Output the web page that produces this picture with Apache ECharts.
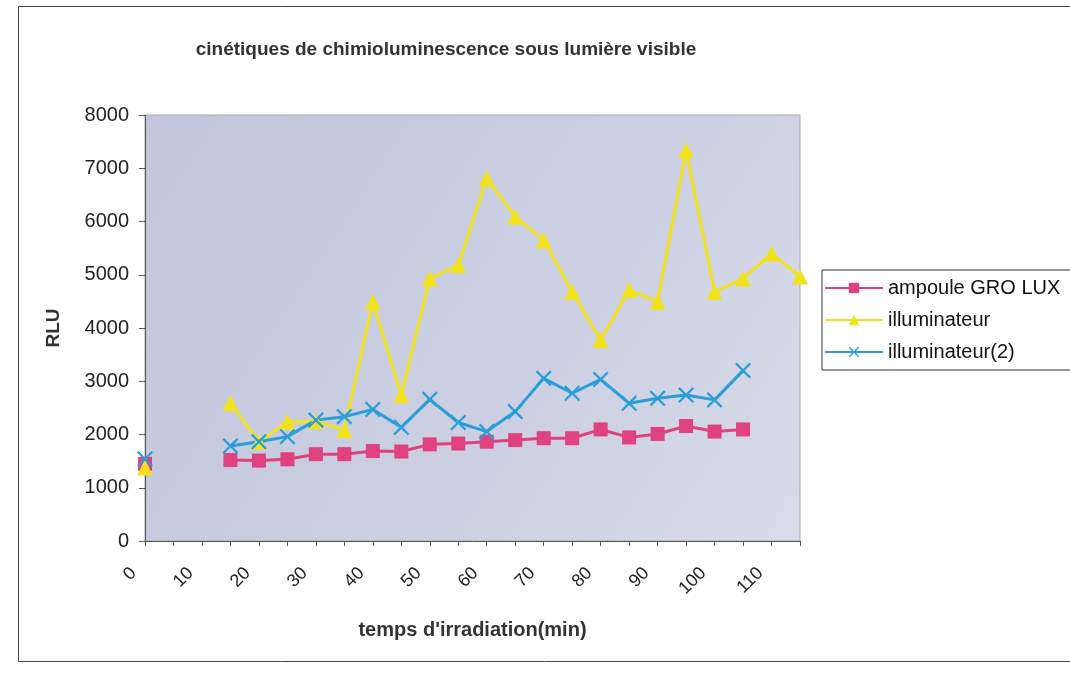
<!DOCTYPE html>
<html>
<head>
<meta charset="utf-8">
<script src="https://cdn.jsdelivr.net/npm/echarts@6/dist/echarts.min.js"></script>
<style>
  html, body { margin: 0; padding: 0; background: #fff; }
  #main { width: 1070px; height: 676px; }
</style>
</head>
<body>
<div id="main"></div>
<script>
/*#############  données  ###############*/
var categories = ["0", "5", "10", "15", "20", "25", "30", "35", "40", "45", "50", "55",
  "60", "65", "70", "75", "80", "85", "90", "95", "100", "105", "110", "115"]; //temps (min)
var ampoule = [1450, "-", "-", 1520, 1510, 1535, 1630, 1630, 1690, 1680, 1815, 1830,
  1865, 1895, 1930, 1930, 2095, 1945, 2010, 2160, 2055, 2095, "-", "-"]; //ampoule GRO LUX
var illuminateur = [1380, "-", "-", 2590, 1865, 2240, 2250, 2085, 4495, 2740, 4930, 5180,
  6810, 6090, 5650, 4680, 3775, 4715, 4495, 7340, 4680, 4930, 5400, 4965]; //illuminateur
var illuminateur2 = [1540, "-", "-", 1785, 1865, 1960, 2270, 2335, 2470, 2135, 2660, 2225,
  2055, 2430, 3055, 2775, 3035, 2585, 2680, 2740, 2650, 3200, "-", "-"]; //illuminateur(2)

var font = "Liberation Sans, Arial, sans-serif";
var crossPath = "path://M0,1L1,0L5,4L9,0L10,1L6,5L10,9L9,10L5,6L1,10L0,9L4,5Z";

var myChart = echarts.init(document.getElementById("main"));
var option = {
  backgroundColor: "#fff",
  textStyle: { fontFamily: font },
  animation: false,
  title: {
    text: "cinétiques de chimioluminescence sous lumière visible",
    left: 441,
    top: 35,
    textAlign: "center",
    textStyle: { fontSize: 19, fontWeight: "bold", color: "#333", fontFamily: font }
  },
  graphic: [
    {
      type: "rect",
      shape: { x: 18.5, y: 6.5, width: 1060, height: 655 },
      style: { fill: "none", stroke: "#444", lineWidth: 1 },
      silent: true
    }
  ],
  legend: {
    orient: "vertical",
    left: 822,
    top: 270,
    padding: [8, 40, 8, 2],
    itemWidth: 58,
    itemHeight: 13,
    itemGap: 12,
    borderColor: "#333",
    borderWidth: 1,
    textStyle: { fontSize: 20, color: "#111", fontFamily: font },
    data: ["ampoule GRO LUX", "illuminateur", "illuminateur(2)"]
  },
  grid: {
    left: 145,
    right: 270,
    top: 115,
    bottom: 135,
    show: true,
    borderWidth: 1,
    borderColor: "#aaa5bd",
    backgroundColor: new echarts.graphic.LinearGradient(0, 0, 1, 1, [
      { offset: 0, color: "#c3c6dc" },
      { offset: 0.6, color: "#ccd0e2" },
      { offset: 1, color: "#d9dbe8" }
    ])
  },
  xAxis: {
    type: "category",
    data: categories,
    boundaryGap: false,
    name: "temps d'irradiation(min)",
    nameLocation: "middle",
    nameGap: 79,
    nameTextStyle: { fontSize: 20, fontWeight: "bold", color: "#333" },
    axisLine: { show: true, lineStyle: { color: "#555", width: 1 } },
    axisTick: { show: true, interval: 0, length: 5, lineStyle: { color: "#555" } },
    axisLabel: {
      interval: 1,
      rotate: 45,
      margin: 18,
      padding: [0, 16, 0, 0],
      fontSize: 18,
      color: "#222"
    },
    splitLine: { show: false }
  },
  yAxis: {
    type: "value",
    min: 0,
    max: 8000,
    interval: 1000,
    name: "RLU",
    nameLocation: "middle",
    nameGap: 82,
    nameRotate: 90,
    nameTextStyle: { fontSize: 19, fontWeight: "bold", color: "#333" },
    axisLine: { show: true, lineStyle: { color: "#555", width: 1 } },
    axisTick: { show: true, length: 6, lineStyle: { color: "#555" } },
    axisLabel: {
      fontSize: 20,
      color: "#222",
      margin: 16,
      formatter: function (v) { return String(v); }
    },
    splitLine: { show: false }
  },
  series: [
    {
      name: "ampoule GRO LUX",
      type: "line",
      data: ampoule,
      connectNulls: false,
      symbol: "rect",
      symbolSize: 14,
      lineStyle: { color: "#e0417f", width: 3 },
      itemStyle: { color: "#e0417f" }
    },
    {
      name: "illuminateur",
      type: "line",
      data: illuminateur,
      connectNulls: false,
      symbol: "triangle",
      symbolSize: 16,
      lineStyle: { color: "#f2e21c", width: 3 },
      itemStyle: { color: "#f2e21c" }
    },
    {
      name: "illuminateur(2)",
      type: "line",
      data: illuminateur2,
      connectNulls: false,
      symbol: crossPath,
      symbolSize: 16,
      lineStyle: { color: "#2a9ed8", width: 3 },
      itemStyle: { color: "#2a9ed8" }
    }
  ]
};
if (option && typeof option === "object") {
  myChart.setOption(option, true);
}
</script>
</body>
</html>
